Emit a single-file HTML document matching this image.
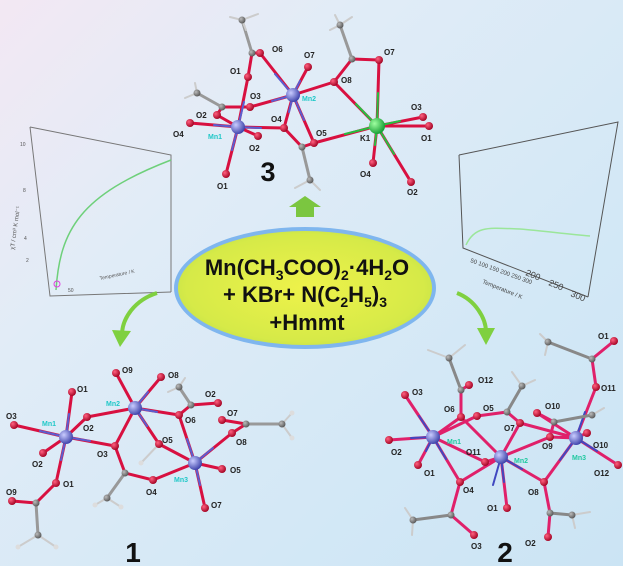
<!DOCTYPE html>
<html><head><meta charset="utf-8"><style>
html,body{margin:0;padding:0}
body{width:623px;height:566px;overflow:hidden;background:linear-gradient(135deg,#f3e8f3 0%,#e1ecf7 30%,#d3e8f6 70%,#cbe4f4 100%);font-family:"Liberation Sans",sans-serif}
svg{display:block}
</style></head><body>
<svg width="623" height="566" viewBox="0 0 623 566" xmlns="http://www.w3.org/2000/svg" font-family="Liberation Sans, sans-serif">
<defs>
<radialGradient id="mn" cx="35%" cy="35%" r="70%"><stop offset="0" stop-color="#c9ccff"/><stop offset="1" stop-color="#3a3fa8"/></radialGradient>
<radialGradient id="o" cx="35%" cy="35%" r="70%"><stop offset="0" stop-color="#ff6080"/><stop offset="1" stop-color="#a00020"/></radialGradient>
<radialGradient id="c" cx="35%" cy="35%" r="70%"><stop offset="0" stop-color="#bbb"/><stop offset="1" stop-color="#555"/></radialGradient>
<radialGradient id="k" cx="35%" cy="35%" r="70%"><stop offset="0" stop-color="#9fffa0"/><stop offset="1" stop-color="#119a30"/></radialGradient>
<radialGradient id="el" cx="50%" cy="50%" r="55%"><stop offset="0" stop-color="#eef24a"/><stop offset="0.85" stop-color="#d6ea48"/><stop offset="1" stop-color="#c5e24a"/></radialGradient>
</defs>

<!-- left graph -->
<g stroke="#777" fill="none" stroke-width="1">
<polyline points="30,127 171,155 171,292"/>
<polyline points="30,127 50,296 171,292"/>
</g>
<path d="M56,290 C60,230 80,195 171,160" stroke="#6ed07a" stroke-width="1.5" fill="none"/>
<circle cx="57" cy="284" r="3" fill="none" stroke="#e040e0"/>
<g font-size="5" fill="#555"><text x="20" y="146">10</text><text x="23" y="192">8</text><text x="24" y="240">4</text><text x="26" y="262">2</text><text x="68" y="292">50</text><text x="100" y="280" transform="rotate(-12 100 280)">Temperature / K</text>
<text x="14" y="250" transform="rotate(-82 14 250)" font-size="6">χT / cm³ K mol⁻¹</text></g>

<!-- right graph -->
<g stroke="#555" fill="none" stroke-width="1">
<polyline points="459,155 618,122 588,297"/>
<polyline points="459,155 463,248 588,297"/>
</g>
<path d="M466,245 C475,225 490,228 520,229 C545,231 565,234 590,236" stroke="#9be69a" stroke-width="1.5" fill="none"/>
<g font-size="6" fill="#444"><text x="470" y="262" transform="rotate(20 470 262)">50 100 150 200 250 300</text>
<text x="525" y="275" transform="rotate(22 525 275)" font-size="9">200</text><text x="548" y="285" transform="rotate(22 548 285)" font-size="9">250</text><text x="570" y="296" transform="rotate(22 570 296)" font-size="9">300</text>
<text x="482" y="283" transform="rotate(22 482 283)" font-size="6">Temperature / K</text></g>

<!-- ellipse -->
<ellipse cx="305" cy="288" rx="131" ry="61" fill="#7fb6ee"/>
<ellipse cx="305" cy="288" rx="127" ry="57" fill="url(#el)"/>
<g font-weight="bold" fill="#111" text-anchor="middle">
<text x="307" y="275" font-size="22">Mn(CH<tspan font-size="14" dy="5">3</tspan><tspan dy="-5">COO)</tspan><tspan font-size="14" dy="5">2</tspan><tspan dy="-5">·4H</tspan><tspan font-size="14" dy="5">2</tspan><tspan dy="-5">O</tspan></text>
<text x="305" y="302" font-size="22">+ KBr+ N(C<tspan font-size="14" dy="5">2</tspan><tspan dy="-5">H</tspan><tspan font-size="14" dy="5">5</tspan><tspan dy="-5">)</tspan><tspan font-size="14" dy="5">3</tspan></text>
<text x="307" y="330" font-size="22">+Hmmt</text>
</g>

<!-- arrows -->
<path d="M296,217 L296,207 L289,207 L305,196 L321,207 L314,207 L314,217 Z" fill="#7bc640"/>
<path d="M157,293 C135,300 122,318 122,335" stroke="#7fd040" stroke-width="4" fill="none"/>
<path d="M112,330 L120,347 L131,331 Z" fill="#7fd040"/>
<path d="M457,293 C475,300 486,318 486,332" stroke="#7fd040" stroke-width="4" fill="none"/>
<path d="M477,328 L486,345 L495,328 Z" fill="#7fd040"/>

<!-- molecule 3 -->
<g stroke-width="3" stroke-linecap="round" fill="none">
<g stroke="#d81040">
<path d="M260,53 L293,95 M308,67 L293,95 M334,82 L293,95 M250,107 L293,95 M284,128 L293,95 M314,143 L293,95"/>
<path d="M248,77 L238,127 M217,115 L238,127 M190,123 L238,127 M258,136 L238,127 M284,128 L238,127 M226,174 L238,127"/>
<path d="M379,60 L377,126 M334,82 L377,126 M314,143 L377,126 M423,117 L377,126 M429,126 L377,126 M373,163 L377,126 M411,182 L377,126"/>
<path d="M252,53 L260,53 M252,53 L248,77 M352,59 L379,60 M352,59 L334,82 M222,107 L250,107 M222,107 L217,115 M302,147 L284,128 M302,147 L314,143"/>
</g>
<g stroke="#5a5ed0" stroke-width="2"><path d="M293,95 L275,74 M293,95 L300,81 M293,95 L272,101 M293,95 L289,112 M293,95 L304,120 M238,127 L244,102 M238,127 L214,125 M238,127 L232,150 M238,127 L261,128"/></g>
<g stroke="#25c040" stroke-width="2"><path d="M377,126 L378,93 M377,126 L356,104 M377,126 L345,134 M377,126 L400,121 M377,126 L375,145 M377,126 L394,154"/></g>
<g stroke="#999"><path d="M252,53 L242,20 M352,59 L340,25 M222,107 L197,93 M302,147 L310,180"/></g>
<g stroke="#ccc" stroke-width="2"><path d="M242,20 L230,17 M242,20 L258,14 M242,20 L246,30 M340,25 L330,30 M340,25 L352,17 M340,25 L335,15 M197,93 L185,98 M197,93 L195,83 M310,180 L295,188 M310,180 L320,190"/></g>
</g>
<g fill="url(#c)"><circle cx="252" cy="53" r="3.5"/><circle cx="242" cy="20" r="3.5"/><circle cx="352" cy="59" r="3.5"/><circle cx="340" cy="25" r="3.5"/><circle cx="222" cy="107" r="3.5"/><circle cx="197" cy="93" r="3.5"/><circle cx="302" cy="147" r="3.5"/><circle cx="310" cy="180" r="3.5"/></g>
<g fill="url(#o)"><circle cx="260" cy="53" r="4"/><circle cx="308" cy="67" r="4"/><circle cx="379" cy="60" r="4"/><circle cx="334" cy="82" r="4"/><circle cx="248" cy="77" r="4"/><circle cx="250" cy="107" r="4"/><circle cx="217" cy="115" r="4"/><circle cx="190" cy="123" r="4"/><circle cx="258" cy="136" r="4"/><circle cx="284" cy="128" r="4"/><circle cx="314" cy="143" r="4"/><circle cx="423" cy="117" r="4"/><circle cx="429" cy="126" r="4"/><circle cx="373" cy="163" r="4"/><circle cx="411" cy="182" r="4"/><circle cx="226" cy="174" r="4"/></g>
<circle cx="293" cy="95" r="7" fill="url(#mn)"/><circle cx="238" cy="127" r="7" fill="url(#mn)"/><circle cx="377" cy="126" r="8" fill="url(#k)"/>
<g font-size="8" font-weight="bold" fill="#222">
<text x="272" y="52">O6</text><text x="304" y="58">O7</text><text x="384" y="55">O7</text><text x="341" y="83">O8</text><text x="230" y="74">O1</text><text x="250" y="99">O3</text><text x="196" y="118">O2</text><text x="173" y="137">O4</text><text x="249" y="151">O2</text><text x="271" y="122">O4</text><text x="316" y="136">O5</text><text x="411" y="110">O3</text><text x="421" y="141">O1</text><text x="360" y="177">O4</text><text x="407" y="195">O2</text><text x="217" y="189">O1</text><text x="360" y="141">K1</text>
</g>
<g font-size="7" font-weight="bold" fill="#20c8c8"><text x="302" y="101">Mn2</text><text x="208" y="139">Mn1</text></g>
<text x="268" y="181" font-size="27" font-weight="bold" text-anchor="middle" fill="#111">3</text>

<!-- molecule 1 -->
<g stroke-width="3" stroke-linecap="round" fill="none">
<g stroke="#d81040">
<path d="M72,392 L66,437 M14,425 L66,437 M87,417 L66,437 M43,453 L66,437 M56,483 L66,437 M115,446 L66,437"/>
<path d="M116,373 L135,408 M161,377 L135,408 M87,417 L135,408 M179,415 L135,408 M159,444 L135,408 M115,446 L135,408"/>
<path d="M179,415 L195,463 M159,444 L195,463 M153,480 L195,463 M232,433 L195,463 M222,469 L195,463 M205,508 L195,463"/>
<path d="M36,503 L12,501 M36,503 L56,483 M125,473 L115,446 M125,473 L153,480 M191,405 L179,415 M191,405 L218,403 M246,424 L222,420 M246,424 L232,433"/>
</g>
<g stroke="#5a5ed0" stroke-width="2"><path d="M66,437 L69,414 M66,437 L40,431 M66,437 L61,460 M66,437 L90,441 M135,408 L148,392 M135,408 L157,412 M135,408 L147,426 M195,463 L187,439 M195,463 L213,448 M195,463 L200,485"/></g>
<g stroke="#999"><path d="M36,503 L38,535 M125,473 L107,498 M191,405 L179,387 M246,424 L282,424"/></g>
<g stroke="#ccc" stroke-width="2"><path d="M38,535 L18,547 M38,535 L56,547 M107,498 L95,505 M107,498 L121,507 M179,387 L185,378 M179,387 L168,392 M282,424 L292,413 M282,424 L292,438 M159,444 L141,463"/></g>
</g>
<g fill="url(#c)"><circle cx="36" cy="503" r="3.5"/><circle cx="38" cy="535" r="3.5"/><circle cx="125" cy="473" r="3.5"/><circle cx="107" cy="498" r="3.5"/><circle cx="191" cy="405" r="3.5"/><circle cx="179" cy="387" r="3.5"/><circle cx="246" cy="424" r="3.5"/><circle cx="282" cy="424" r="3.5"/></g>
<g fill="#ddd"><circle cx="18" cy="547" r="2.5"/><circle cx="56" cy="547" r="2.5"/><circle cx="95" cy="505" r="2.5"/><circle cx="121" cy="507" r="2.5"/><circle cx="141" cy="463" r="2.5"/><circle cx="292" cy="413" r="2.5"/><circle cx="292" cy="438" r="2.5"/></g>
<g fill="url(#o)"><circle cx="72" cy="392" r="4"/><circle cx="14" cy="425" r="4"/><circle cx="87" cy="417" r="4"/><circle cx="43" cy="453" r="4"/><circle cx="56" cy="483" r="4"/><circle cx="12" cy="501" r="4"/><circle cx="116" cy="373" r="4"/><circle cx="161" cy="377" r="4"/><circle cx="218" cy="403" r="4"/><circle cx="179" cy="415" r="4"/><circle cx="115" cy="446" r="4"/><circle cx="159" cy="444" r="4"/><circle cx="153" cy="480" r="4"/><circle cx="222" cy="420" r="4"/><circle cx="232" cy="433" r="4"/><circle cx="222" cy="469" r="4"/><circle cx="205" cy="508" r="4"/></g>
<circle cx="66" cy="437" r="7" fill="url(#mn)"/><circle cx="135" cy="408" r="7" fill="url(#mn)"/><circle cx="195" cy="463" r="7" fill="url(#mn)"/>
<g font-size="8" font-weight="bold" fill="#222">
<text x="77" y="392">O1</text><text x="6" y="419">O3</text><text x="83" y="431">O2</text><text x="32" y="467">O2</text><text x="63" y="487">O1</text><text x="6" y="495">O9</text><text x="122" y="373">O9</text><text x="168" y="378">O8</text><text x="205" y="397">O2</text><text x="185" y="423">O6</text><text x="97" y="457">O3</text><text x="162" y="443">O5</text><text x="146" y="495">O4</text><text x="227" y="416">O7</text><text x="236" y="445">O8</text><text x="230" y="473">O5</text><text x="211" y="508">O7</text>
</g>
<g font-size="7" font-weight="bold" fill="#20c8c8"><text x="42" y="426">Mn1</text><text x="106" y="406">Mn2</text><text x="174" y="482">Mn3</text></g>
<text x="133" y="562" font-size="28" font-weight="bold" text-anchor="middle" fill="#111">1</text>

<!-- molecule 2 -->
<g stroke-width="3" stroke-linecap="round" fill="none">
<g stroke="#e0206a">
<path d="M405,395 L433,437 M389,440 L433,437 M418,465 L433,437 M460,482 L433,437 M461,417 L433,437 M477,416 L433,437 M485,462 L433,437"/>
<path d="M461,417 L501,457 M520,423 L501,457 M460,482 L501,457 M544,482 L501,457 M507,508 L501,457 M550,437 L501,457 M485,462 L501,457"/>
<path d="M520,423 L576,438 M537,413 L576,438 M596,387 L576,438 M587,433 L576,438 M618,465 L576,438 M544,482 L576,438 M550,437 L576,438"/>
<path d="M461,390 L469,385 M461,390 L461,417 M507,412 L477,416 M507,412 L520,423 M554,422 L537,413 M554,422 L550,437 M592,359 L614,341 M592,359 L596,387 M451,515 L460,482 M451,515 L474,535 M550,513 L544,482 M550,513 L548,537"/>
</g>
<g stroke="#4048c0" stroke-width="2"><path d="M433,437 L419,416 M433,437 L411,438 M433,437 L426,451 M433,437 L446,459 M501,457 L493,485 M501,457 L504,482 M501,457 L522,469 M576,438 L585,412 M576,438 L597,451 M576,438 L560,460"/></g>
<g stroke="#888"><path d="M461,390 L449,358 M507,412 L522,386 M554,422 L592,415 M592,359 L548,342 M451,515 L413,520 M550,513 L572,515"/></g>
<g stroke="#ccc" stroke-width="2"><path d="M449,358 L428,350 M449,358 L465,345 M522,386 L535,380 M522,386 L512,372 M592,415 L604,408 M548,342 L540,334 M548,342 L545,355 M413,520 L405,508 M413,520 L412,535 M572,515 L590,512 M572,515 L575,528"/></g>
</g>
<g fill="url(#c)"><circle cx="461" cy="390" r="3.5"/><circle cx="449" cy="358" r="3.5"/><circle cx="507" cy="412" r="3.5"/><circle cx="522" cy="386" r="3.5"/><circle cx="554" cy="422" r="3.5"/><circle cx="592" cy="415" r="3.5"/><circle cx="592" cy="359" r="3.5"/><circle cx="548" cy="342" r="3.5"/><circle cx="451" cy="515" r="3.5"/><circle cx="413" cy="520" r="3.5"/><circle cx="550" cy="513" r="3.5"/><circle cx="572" cy="515" r="3.5"/></g>
<g fill="url(#o)"><circle cx="405" cy="395" r="4"/><circle cx="389" cy="440" r="4"/><circle cx="418" cy="465" r="4"/><circle cx="460" cy="482" r="4"/><circle cx="461" cy="417" r="4"/><circle cx="469" cy="385" r="4"/><circle cx="477" cy="416" r="4"/><circle cx="520" cy="423" r="4"/><circle cx="485" cy="462" r="4"/><circle cx="550" cy="437" r="4"/><circle cx="537" cy="413" r="4"/><circle cx="596" cy="387" r="4"/><circle cx="614" cy="341" r="4"/><circle cx="587" cy="433" r="4"/><circle cx="618" cy="465" r="4"/><circle cx="544" cy="482" r="4"/><circle cx="507" cy="508" r="4"/><circle cx="474" cy="535" r="4"/><circle cx="548" cy="537" r="4"/></g>
<circle cx="433" cy="437" r="7" fill="url(#mn)"/><circle cx="501" cy="457" r="7" fill="url(#mn)"/><circle cx="576" cy="438" r="7" fill="url(#mn)"/>
<g font-size="8" font-weight="bold" fill="#222">
<text x="412" y="395">O3</text><text x="391" y="455">O2</text><text x="424" y="476">O1</text><text x="463" y="493">O4</text><text x="444" y="412">O6</text><text x="478" y="383">O12</text><text x="483" y="411">O5</text><text x="504" y="431">O7</text><text x="466" y="455">O11</text><text x="542" y="449">O9</text><text x="545" y="409">O10</text><text x="601" y="391">O11</text><text x="598" y="339">O1</text><text x="593" y="448">O10</text><text x="594" y="476">O12</text><text x="528" y="495">O8</text><text x="487" y="511">O1</text><text x="471" y="549">O3</text><text x="525" y="546">O2</text>
</g>
<g font-size="7" font-weight="bold" fill="#20c8a0"><text x="447" y="444">Mn1</text><text x="514" y="463">Mn2</text><text x="572" y="460">Mn3</text></g>
<text x="505" y="562" font-size="28" font-weight="bold" text-anchor="middle" fill="#111">2</text>
</svg>
</body></html>
